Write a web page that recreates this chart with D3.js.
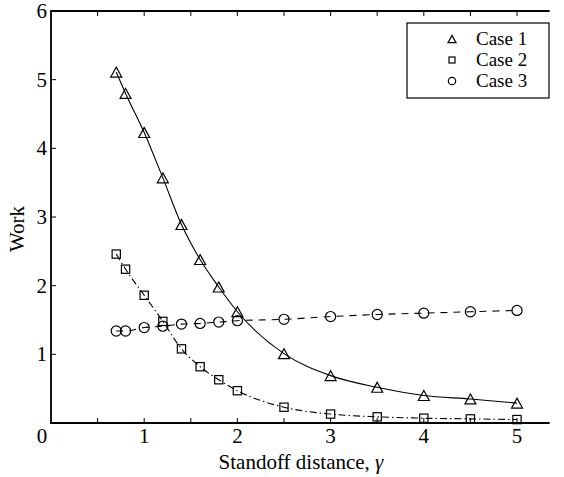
<!DOCTYPE html>
<html>
<head>
<meta charset="utf-8">
<script src="https://cdn.jsdelivr.net/npm/d3@7"></script>
<style>
  html, body { margin: 0; padding: 0; background: #fff; }
  svg { display: block; }
  svg text { font-family: "Liberation Serif", "DejaVu Serif", serif; }
</style>
</head>
<body>
<svg id="chart" width="564" height="477"></svg>
<script>
// Standoff distance samples (shared by all three cases)
const standoff = [0.7, 0.8, 1.0, 1.2, 1.4, 1.6, 1.8, 2.0, 2.5, 3.0, 3.5, 4.0, 4.5, 5.0];

// Work for each case
const case1 = [5.11, 4.80, 4.23, 3.57, 2.89, 2.38, 1.98, 1.62, 1.01, 0.69, 0.52, 0.40, 0.35, 0.29];
const case2 = [2.46, 2.24, 1.86, 1.48, 1.08, 0.82, 0.63, 0.47, 0.23, 0.13, 0.09, 0.07, 0.06, 0.05];
const case3 = [1.34, 1.34, 1.39, 1.41, 1.44, 1.45, 1.47, 1.49, 1.51, 1.55, 1.58, 1.60, 1.62, 1.64];

const seriesNames = ["Case 1", "Case 2", "Case 3"];
const xTickLabels = [1, 2, 3, 4, 5];
const yTickLabels = [1, 2, 3, 4, 5, 6];
const xMinorTicks = [0.5, 1, 1.5, 2, 2.5, 3, 3.5, 4, 4.5, 5];

const svg = d3.select("#chart");
const plotLeft = 51, plotTop = 11, plotBottom = 423;

const x = d3.scaleLinear().domain([0, 5.35]).range([plotLeft, plotLeft + 5.35 * 93.2]);
const y = d3.scaleLinear().domain([0, 6]).range([plotBottom, plotTop]);

const series = [
  { name: seriesNames[0], values: case1, marker: "triangle", dash: null },
  { name: seriesNames[1], values: case2, marker: "square", dash: "7,3,1.5,3" },
  { name: seriesNames[2], values: case3, marker: "circle", dash: "7,6" }
];

// Lines: smooth curves through the samples
const line = d3.line().curve(d3.curveMonotoneX);
series.forEach(s => {
  const pts = standoff.map((d, i) => [x(d), y(s.values[i])]);
  svg.append("path")
    .attr("d", line(pts))
    .attr("fill", "none")
    .attr("stroke", "#000")
    .attr("stroke-width", 1.1)
    .attr("stroke-dasharray", s.dash);
});

// Open markers
function drawMarker(g, type, cx, cy, size) {
  if (type === "triangle") {
    const h = size * 0.9, w = size;
    g.append("path")
      .attr("d", `M${cx},${cy - h / 2}L${cx + w / 2},${cy + h / 2}L${cx - w / 2},${cy + h / 2}Z`)
      .attr("fill", "none").attr("stroke", "#000").attr("stroke-width", 1.2);
  } else if (type === "square") {
    const s = size * 0.75;
    g.append("rect")
      .attr("x", cx - s / 2).attr("y", cy - s / 2).attr("width", s).attr("height", s)
      .attr("fill", "none").attr("stroke", "#000").attr("stroke-width", 1.2);
  } else {
    g.append("circle")
      .attr("cx", cx).attr("cy", cy).attr("r", size * 0.46)
      .attr("fill", "none").attr("stroke", "#000").attr("stroke-width", 1.2);
  }
}

const markers = svg.append("g");
series.forEach(s => {
  standoff.forEach((d, i) => drawMarker(markers, s.marker, x(d), y(s.values[i]), 11));
});

// Axes box (left, bottom, top; right side runs past the edge)
const axisG = svg.append("g");
const xRight = x(5.35);
axisG.append("path")
  .attr("d", `M${xRight},${plotTop}H${plotLeft}V${plotBottom}H${xRight}`)
  .attr("fill", "none").attr("stroke", "#000").attr("stroke-width", 1.8);

// Tick marks pointing inward
xMinorTicks.forEach(t => {
  axisG.append("line").attr("x1", x(t)).attr("x2", x(t)).attr("y1", plotBottom).attr("y2", plotBottom - 5)
    .attr("stroke", "#000").attr("stroke-width", 1);
  axisG.append("line").attr("x1", x(t)).attr("x2", x(t)).attr("y1", plotTop).attr("y2", plotTop + 5)
    .attr("stroke", "#000").attr("stroke-width", 1);
});
yTickLabels.forEach(t => {
  axisG.append("line").attr("x1", plotLeft).attr("x2", plotLeft + 5).attr("y1", y(t)).attr("y2", y(t))
    .attr("stroke", "#000").attr("stroke-width", 1);
});

function label(sel) {
  return sel.attr("font-size", 21).attr("fill", "#000");
}

// Tick labels
xTickLabels.forEach(t => {
  label(svg.append("text")).attr("x", x(t)).attr("y", 443).attr("text-anchor", "middle").text(t);
});
yTickLabels.forEach(t => {
  label(svg.append("text")).attr("x", 47).attr("y", y(t) + 7).attr("text-anchor", "end").text(t);
});
label(svg.append("text")).attr("x", 42).attr("y", 443).attr("text-anchor", "middle").text("0");

// Axis titles
const xt = label(svg.append("text")).attr("x", 301).attr("y", 469).attr("text-anchor", "middle");
xt.append("tspan").text("Standoff distance, ");
xt.append("tspan").attr("font-style", "italic").text("γ");
label(svg.append("text"))
  .attr("transform", "translate(24,229) rotate(-90)")
  .attr("text-anchor", "middle").text("Work");

// Legend
const lg = svg.append("g");
lg.append("rect").attr("x", 407).attr("y", 23).attr("width", 142).attr("height", 75)
  .attr("fill", "#fff").attr("stroke", "#000").attr("stroke-width", 1.2);
series.forEach((s, i) => {
  const cy = 39 + i * 21;
  drawMarker(lg, s.marker, 452, cy, 8);
  lg.append("text").attr("font-size", 19).attr("fill", "#000")
    .attr("x", 476).attr("y", cy + 6).text(s.name);
});
</script>
</body>
</html>
